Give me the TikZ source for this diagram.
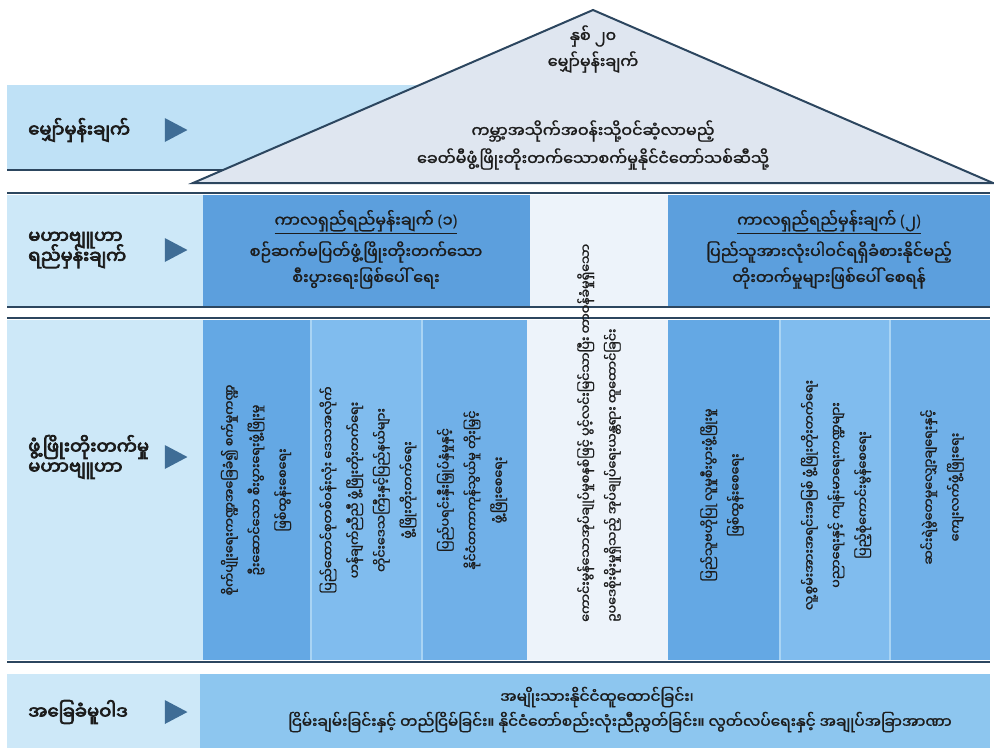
\documentclass[tikz,border=0pt]{standalone}
\usepackage{fontspec}
\usetikzlibrary{shapes.geometric}
\setmainfont{Noto Sans}
\newfontfamily\mmfont[Script=Myanmar,FakeBold=1.5]{Noto Sans Myanmar UI}
\newfontfamily\mmbold[Script=Myanmar,FakeBold=4]{Noto Sans Myanmar UI}
\newcommand{\tightlines}{\lineskiplimit-20pt\relax}
\newcommand{\paren}[1]{{\rmfamily(}#1{\rmfamily)}}

\definecolor{bandblue}{HTML}{BFE1F6}
\definecolor{palecol}{HTML}{CDE8F8}
\definecolor{boxblue}{HTML}{5C9FDD}
\definecolor{colA}{HTML}{64A8E4}
\definecolor{colB}{HTML}{80BCEE}
\definecolor{colC}{HTML}{70B0E8}
\definecolor{coldiv}{HTML}{A9D4F4}
\definecolor{baseblue}{HTML}{8DC6EF}
\definecolor{whitecol}{HTML}{EDF3FA}
\definecolor{roofgray}{HTML}{DFE6F0}
\definecolor{rulenavy}{HTML}{2C465F}
\definecolor{arrowblue}{HTML}{3F6D96}
\definecolor{inkblack}{HTML}{1C1C1C}

\tikzstyle{rowlabel}=[anchor=west, align=left, inner sep=0pt, text=inkblack, font={\mmbold\fontsize{13.5}{15}\selectfont\tightlines}]
\tikzstyle{pointer}=[isosceles triangle, isosceles triangle stretches, fill=arrowblue, inner sep=0pt, minimum width=18pt, minimum height=17pt]
\tikzstyle{boxtext}=[align=center, inner sep=0pt, text=inkblack, font={\mmfont\fontsize{12}{19.5}\selectfont\tightlines}]
\tikzstyle{basetext}=[boxtext, font={\mmfont\fontsize{11.5}{20}\selectfont\tightlines}]
\tikzstyle{coltext}=[rotate=90, align=center, inner sep=0pt, text=inkblack, font={\mmfont\fontsize{9.5}{20}\selectfont\tightlines}]
\tikzstyle{sepline}=[rulenavy, line width=1.8pt]
\newcommand{\rowlabel}{\node[rowlabel]}
\newcommand{\pointer}{\node[pointer]}
\newcommand{\coltext}{\node[coltext]}

\begin{document}
\begin{tikzpicture}[x=0.75pt, y=-0.75pt]
\useasboundingbox (0,0) rectangle (994,751);
\fill[bandblue] (7,85) rectangle (600,170);
\fill[palecol] (7,195) rectangle (203,306);
\fill[boxblue] (203,195) rectangle (530,306);
\fill[whitecol] (530,195) rectangle (668,306);
\fill[boxblue] (668,195) rectangle (990,306);
\fill[palecol] (7,320) rectangle (203,660);
\fill[colA] (203,320) rectangle (311,660);
\fill[colB] (311,320) rectangle (422,660);
\fill[colC] (422,320) rectangle (527,660);
\fill[whitecol] (527,320) rectangle (668,660);
\fill[colA] (668,320) rectangle (780,660);
\fill[colB] (780,320) rectangle (890,660);
\fill[colC] (890,320) rectangle (990,660);
\draw[coldiv, line width=1.5pt] (311,320) -- (311,660) (422,320) -- (422,660) (780,320) -- (780,660) (890,320) -- (890,660);
\fill[palecol] (7,674) rectangle (200,748);
\fill[baseblue] (200,674) rectangle (990,748);
\draw[sepline] (7,170) -- (240,170);
\draw[sepline] (7,193) -- (990,193) (7,307) -- (990,307);
\draw[sepline] (7,318) -- (990,318) (7,662) -- (990,662);
\draw[rulenavy, line width=1.5pt, fill=roofgray, line join=miter] (193,183) -- (593,10) -- (993,183) -- cycle;

\node[boxtext] (year) at (593,36) {နှစ် ၂၀};
\node[boxtext] (visionhead) at (593,62) {မျှော်မှန်းချက်};
\node[boxtext] (visionA) at (593,131) {ကမ္ဘာ့အသိုက်အဝန်းသို့ဝင်ဆံ့လာမည့်};
\node[boxtext] (visionB) at (593,159) {ခေတ်မီဖွံ့ဖြိုးတိုးတက်သောစက်မှုနိုင်ငံတော်သစ်ဆီသို့};

\rowlabel (lblvision) at (28,130) {မျှော်မှန်းချက်};
\pointer (ptrvision) at (172,130) {};
\rowlabel (lblgoal) at (28,250) {မဟာဗျူဟာ\\ရည်မှန်းချက်};
\pointer (ptrgoal) at (172,250) {};
\rowlabel (lblstrat) at (28,457) {ဖွံ့ဖြိုးတိုးတက်မှု\\မဟာဗျူဟာ};
\pointer (ptrstrat) at (172,457) {};
\rowlabel (lblbasis) at (28,712) {အခြေခံမူဝါဒ};
\pointer (ptrbasis) at (172,712) {};

\node[boxtext] (goalAhead) at (366,222) {\underline{ကာလရှည်ရည်မှန်းချက် \paren{၁}}};
\node[boxtext] (goalA) at (366,265) {စဉ်ဆက်မပြတ်ဖွံ့ဖြိုးတိုးတက်သော\\စီးပွားရေးဖြစ်ပေါ် ရေး};
\node[boxtext] (goalBhead) at (829,222) {\underline{ကာလရှည်ရည်မှန်းချက် \paren{၂}}};
\node[boxtext] (goalB) at (829,265) {ပြည်သူအားလုံးပါဝင်ရရှိခံစားနိုင်မည့်\\တိုးတက်မှုများဖြစ်ပေါ် စေရန်};

\coltext (stratA) at (256,490) {စိုက်ပျိုးရေးကဏ္ဍအခြေခံ၍ စက်မှုကဏ္ဍ\\ဦးဆောင်သော စီးပွားရေးဖွံ့ဖြိုးမှု\\ဖြစ်ထွန်းစေရေး};
\coltext (stratB) at (368,490) {ပြည်ထောင်စုတစ်ဝန်းလုံး ဒေသအလိုက်\\ဟန်ချက်ညီညီ ဖွံ့ဖြိုးတိုးတက်ရေး\\တိုင်းဒေသကြီးနှင့်ပြည်နယ်များ\\ဖွံ့ဖြိုးတိုးတက်ရေး};
\coltext (stratC) at (472,490) {ပြည်ပရင်းနှီးမြှုပ်နှံမှုနှင့်\\နိုင်ငံတကာကုန်သွယ်မှု တိုးမြှင့်\\ဖွံ့ဖြိုးစေရေး};
\coltext[align=left, anchor=west] (stratD) at (599,622) {ကောင်းမွန်သောအုပ်ချုပ်မှုစနစ်ဖြင့် ပွင့်လင်းမြင်သာပြီး တာဝန်ခံမှုရှိသော\\ဥပဒေစိုးမိုးမှုရှိသည့် အုပ်ချုပ်ရေးယန္တရား ထူထောင်ခြင်း};
\coltext (stratE) at (722,495) {ပြည်သူဗဟိုပြု လူမှုစီးပွားဖွံ့ဖြိုးမှု\\ဖြစ်ထွန်းစေရေး};
\coltext (stratF) at (836,495) {လူ့စွမ်းအားအရင်းအမြစ် ဖွံ့ဖြိုးတိုးတက်ရေး\\ပညာရေးနှင့် ကျန်းမာရေးကဏ္ဍများ\\ပြည့်စုံကောင်းမွန်စေရေး};
\coltext (stratG) at (942,487) {ဆင်းရဲမွဲတေမှုလျှော့ချရေးနှင့်\\ကျေးလက်ဖွံ့ဖြိုးရေး};

\node[basetext] (basishead) at (597,697) {အမျိုးသားနိုင်ငံထူထောင်ခြင်း၊};
\node[basetext] (basis) at (620,722) {ငြိမ်းချမ်းခြင်းနှင့် တည်ငြိမ်ခြင်း။ နိုင်ငံတော်စည်းလုံးညီညွတ်ခြင်း။ လွတ်လပ်ရေးနှင့် အချုပ်အခြာအာဏာ};
\end{tikzpicture}
\end{document}
